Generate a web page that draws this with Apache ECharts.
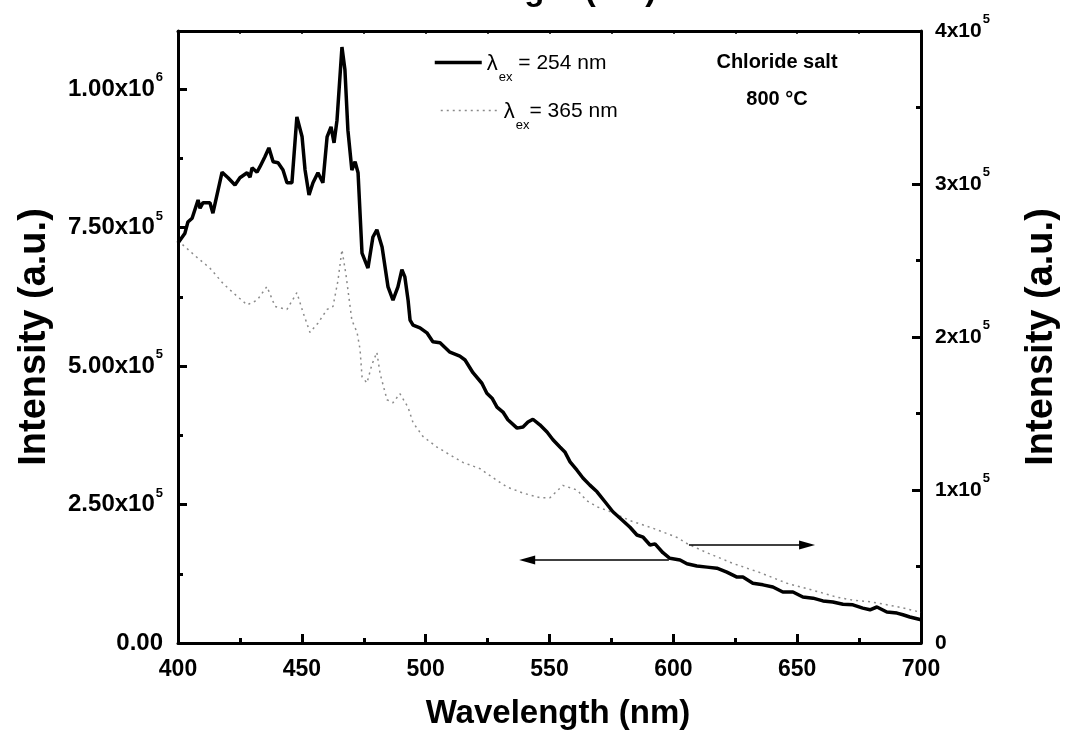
<!DOCTYPE html>
<html><head><meta charset="utf-8">
<script src="https://cdn.jsdelivr.net/npm/echarts@6/dist/echarts.min.js"></script>
<style>html,body{margin:0;padding:0;background:#fff}#c{width:1068px;height:742px}</style>
</head><body><div id="c"></div>
<script>
// wavelength (nm), intensity (a.u.) for excitation at 254 nm (left axis)
const spectrum254 = [[400,7.22e5],[402.8,7.40e5],[404,7.60e5],[405.7,7.67e5],[408.1,8.00e5],[408.9,7.85e5],[410.1,7.95e5],[412.9,7.95e5],[414.1,7.76e5],[417.8,8.50e5],[420.2,8.40e5],[423,8.27e5],[425,8.40e5],[427.9,8.49e5],[429.1,8.41e5],[429.9,8.58e5],[431.9,8.50e5],[433.1,8.60e5],[435.1,8.78e5],[436.7,8.94e5],[438.4,8.69e5],[440.4,8.67e5],[442.4,8.54e5],[444,8.31e5],[446,8.31e5],[448,9.50e5],[450.1,9.14e5],[451.3,8.54e5],[452.9,8.09e5],[454.5,8.31e5],[456.5,8.49e5],[458.5,8.31e5],[460.2,9.14e5],[461.8,9.32e5],[463,9.03e5],[464.2,9.44e5],[466.2,10.76e5],[467.4,10.35e5],[468.6,9.26e5],[470.2,8.54e5],[471.5,8.69e5],[472.7,8.49e5],[474.3,7.04e5],[476.7,6.77e5],[478.7,7.33e5],[480.3,7.46e5],[482.4,7.15e5],[484.8,6.43e5],[486.8,6.19e5],[488.8,6.43e5],[490.4,6.74e5],[491.6,6.61e5],[492.9,6.19e5],[493.7,5.83e5],[494.9,5.74e5],[497.7,5.69e5],[500.5,5.60e5],[502.9,5.44e5],[505.8,5.42e5],[509.8,5.25e5],[513.8,5.18e5],[515.9,5.11e5],[519.1,4.88e5],[522.7,4.69e5],[524.7,4.51e5],[526.8,4.42e5],[528.8,4.26e5],[531.2,4.17e5],[533.2,4.03e5],[534,4.06e5],[536.9,3.88e5],[539.3,3.90e5],[541.3,3.99e5],[543.3,4.04e5],[546.1,3.94e5],[549,3.81e5],[551.4,3.67e5],[554.2,3.54e5],[556.2,3.45e5],[558.3,3.27e5],[561.1,3.12e5],[563.5,2.98e5],[566.3,2.85e5],[569.2,2.73e5],[572.4,2.55e5],[575.6,2.37e5],[579.3,2.22e5],[582.5,2.09e5],[585.3,1.95e5],[587.8,1.91e5],[590.6,1.77e5],[592.6,1.79e5],[595.8,1.63e5],[598.6,1.53e5],[602.7,1.50e5],[605.5,1.43e5],[609.5,1.39e5],[613.6,1.37e5],[617.6,1.35e5],[621.6,1.28e5],[625.7,1.19e5],[628.1,1.19e5],[632.1,1.08e5],[636.2,1.05e5],[640.2,1.01e5],[644.2,0.92e5],[648.3,0.92e5],[652.3,0.83e5],[656.4,0.81e5],[660.4,0.76e5],[664.4,0.74e5],[668.5,0.70e5],[672.5,0.69e5],[676.5,0.63e5],[679.4,0.60e5],[682.2,0.65e5],[686.2,0.56e5],[690.3,0.54e5],[692.7,0.51e5],[695.5,0.47e5],[700,0.42e5]];
// wavelength (nm), intensity (a.u.) for excitation at 365 nm (right axis)
const spectrum365 = [[400,2.63e5],[402.8,2.59e5],[407.7,2.52e5],[412.9,2.45e5],[418.2,2.35e5],[422.2,2.29e5],[427.9,2.21e5],[431.9,2.24e5],[435.9,2.33e5],[439.2,2.20e5],[444,2.18e5],[448,2.29e5],[450.5,2.16e5],[453.3,2.03e5],[456.5,2.09e5],[460.2,2.18e5],[462.6,2.20e5],[464.6,2.37e5],[466.2,2.57e5],[467.8,2.41e5],[470.2,2.11e5],[472.3,2.03e5],[473.5,1.92e5],[474.3,1.74e5],[476.3,1.70e5],[478.3,1.82e5],[480.3,1.90e5],[481.6,1.76e5],[484.4,1.59e5],[486.8,1.57e5],[489.6,1.63e5],[492.9,1.54e5],[494.9,1.44e5],[498.9,1.35e5],[504.6,1.28e5],[509.8,1.23e5],[515.1,1.18e5],[521.9,1.14e5],[527.2,1.08e5],[532.8,1.02e5],[539.3,0.98e5],[546.1,0.95e5],[550.2,0.95e5],[555.4,1.03e5],[561.1,1.00e5],[565.1,0.93e5],[569.2,0.89e5],[574.4,0.86e5],[582.5,0.80e5],[591.8,0.75e5],[601.5,0.69e5],[605.5,0.65e5],[613.6,0.59e5],[624.1,0.52e5],[635,0.46e5],[645.9,0.39e5],[655.2,0.35e5],[666,0.30e5],[672.5,0.28e5],[679.4,0.27e5],[686.2,0.25e5],[692.7,0.23e5],[700,0.20e5]];

const seriesNames = ['λex = 254 nm', 'λex = 365 nm'];
const legendTexts = ['{g|λ}{s|ex}{t| = 254 nm}', '{g|λ}{s|ex}{t|= 365 nm}'];
const xRange = [400, 700];
const leftRange = [0, 1.105e6];
const rightRange = [0, 4e5];
// arrows: [x from, x to, y] in data units
const arrowLeft = [598.2, 541, 1.5e5];
const arrowRight = [606.3, 654, 0.64e5];
const sampleLabel = ['Chloride salt', '800 °C'];
const xTitle = 'Wavelength (nm)';
const yTitle = 'Intensity (a.u.)';

const FONT = '"Liberation Sans", Arial, Helvetica, sans-serif';

function sci(v, fixed) {
  if (Math.abs(v) < 1e-9) return fixed ? '{b|0.00}' : '{b|0}';
  const e = Math.floor(Math.log10(v) + 1e-9);
  const m = v / Math.pow(10, e);
  return '{b|' + (fixed ? m.toFixed(2) : String(Math.round(m))) + 'x10}{sup|' + e + '}';
}
const supRich = (size) => ({
  b: {fontFamily: FONT, fontWeight: 'bold', fontSize: size, color: '#000', lineHeight: 36, verticalAlign: 'middle'},
  sup: {fontFamily: FONT, fontWeight: 'bold', fontSize: 13, color: '#000', lineHeight: 36, verticalAlign: 'bottom', padding: [0,0,23,1]}
});

const axisLine = {show: true, onZero: false, lineStyle: {color: '#000', width: 3}};
const chart = echarts.init(document.getElementById('c'), null, {renderer: 'canvas'});
const legendRich = {
  g: {fontFamily: FONT, fontSize: 22, color: '#000', verticalAlign: 'top', padding: [12,0,0,0]},
  s: {fontFamily: FONT, fontSize: 13, color: '#000', lineHeight: 43, verticalAlign: 'bottom', padding: [30,0,0,1]},
  t: {fontFamily: FONT, fontSize: 21, color: '#000', verticalAlign: 'top', padding: [12,0,0,0]}
};
const legendCommon = {padding: 0, itemHeight: 14, selectedMode: false,
  itemStyle: {color: 'rgba(0,0,0,0)', borderWidth: 0, opacity: 0},
  textStyle: {rich: legendRich}};
chart.setOption({
  backgroundColor: '#fff',
  animation: false,
  grid: {left: 178, right: 147, top: 31, bottom: 99, containLabel: false, outerBoundsMode: 'none'},
  legend: [
    Object.assign({data: [seriesNames[0]], left: 433, top: 41, itemWidth: 47,
      lineStyle: {color: '#000', width: 3.5, type: 'solid'},
      formatter: () => legendTexts[0]}, legendCommon),
    Object.assign({data: [seriesNames[1]], left: 440, top: 89, itemWidth: 58,
      lineStyle: {color: '#8a8a8a', width: 1.5, type: [2, 4]},
      formatter: () => legendTexts[1]}, legendCommon)
  ],
  xAxis: [
    {type: 'value', position: 'bottom', min: xRange[0], max: xRange[1], interval: 50,
     axisLine: axisLine, splitLine: {show: false},
     axisTick: {show: true, inside: true, length: 9, lineStyle: {color: '#000', width: 3}},
     minorTick: {show: true, splitNumber: 2, length: 5, lineStyle: {color: '#000', width: 3}},
     axisLabel: {margin: 15, color: '#000', fontFamily: FONT, fontWeight: 'bold', fontSize: 23},
     name: xTitle, nameLocation: 'middle', nameGap: 54,
     nameTextStyle: {fontFamily: FONT, fontWeight: 'bold', fontSize: 33, color: '#000', padding: [0,0,0,17]}},
    {type: 'value', position: 'top', min: xRange[0], max: xRange[1], interval: 25,
     axisLine: axisLine, splitLine: {show: false},
     axisTick: {show: true, inside: true, length: 3, lineStyle: {color: '#000', width: 1.5}},
     axisLabel: {show: false}}
  ],
  yAxis: [
    {type: 'value', position: 'left', min: leftRange[0], max: leftRange[1], interval: 2.5e5,
     axisLine: axisLine, splitLine: {show: false},
     axisTick: {show: true, inside: true, length: 9, lineStyle: {color: '#000', width: 3}},
     minorTick: {show: true, splitNumber: 2, length: 5, lineStyle: {color: '#000', width: 3}},
     axisLabel: {margin: 15, showMaxLabel: false, rich: supRich(24),
       formatter: (v) => (Math.abs(v % 2.5e5) < 1 ? sci(v, true) : '')},
     name: yTitle, nameLocation: 'middle', nameGap: 124, nameRotate: 90,
     nameTextStyle: {fontFamily: FONT, fontWeight: 'bold', fontSize: 38, color: '#000'}},
    {type: 'value', position: 'right', min: rightRange[0], max: rightRange[1], interval: 1e5,
     axisLine: axisLine, splitLine: {show: false},
     axisTick: {show: true, inside: true, length: 9, lineStyle: {color: '#000', width: 3}},
     minorTick: {show: true, splitNumber: 2, length: 5, lineStyle: {color: '#000', width: 3}},
     axisLabel: {margin: 14, rich: supRich(21), formatter: (v) => sci(v, false)},
     name: yTitle, nameLocation: 'middle', nameGap: 102, nameRotate: 90,
     nameTextStyle: {fontFamily: FONT, fontWeight: 'bold', fontSize: 38, color: '#000'}}
  ],
  series: [
    {name: seriesNames[0], type: 'line', xAxisIndex: 0, yAxisIndex: 0, data: spectrum254,
     showSymbol: false, symbol: 'none', smooth: false, z: 3,
     lineStyle: {color: '#000', width: 3.5}, itemStyle: {color: '#000'},
     markLine: {silent: true, symbol: ['none', 'triangle'], symbolSize: [9, 16], label: {show: false},
       lineStyle: {color: '#000', width: 1.5, type: 'solid'},
       data: [[{coord: [arrowLeft[0], arrowLeft[2]]}, {coord: [arrowLeft[1], arrowLeft[2]]}]]}},
    {name: seriesNames[1], type: 'line', xAxisIndex: 0, yAxisIndex: 1, data: spectrum365,
     showSymbol: false, symbol: 'none', smooth: false, z: 2,
     lineStyle: {color: '#8a8a8a', width: 1.5, type: [2, 4]}, itemStyle: {color: '#8a8a8a'},
     markLine: {silent: true, symbol: ['none', 'triangle'], symbolSize: [9, 16], label: {show: false},
       lineStyle: {color: '#000', width: 1.5, type: 'solid'},
       data: [[{coord: [arrowRight[0], arrowRight[2]]}, {coord: [arrowRight[1], arrowRight[2]]}]]}}
  ],
  graphic: [
    {type: 'text', x: 777, y: 44, silent: true,
     style: {text: sampleLabel.join('\n'), align: 'center', verticalAlign: 'top', lineHeight: 37,
       font: 'bold 20px ' + FONT, fill: '#000'}},
    {type: 'text', x: 524, y: 7, silent: true,
     style: {text: xTitle, align: 'center', verticalAlign: 'bottom', font: 'bold 33px ' + FONT, fill: '#000'}}
  ]
});
</script></body></html>
